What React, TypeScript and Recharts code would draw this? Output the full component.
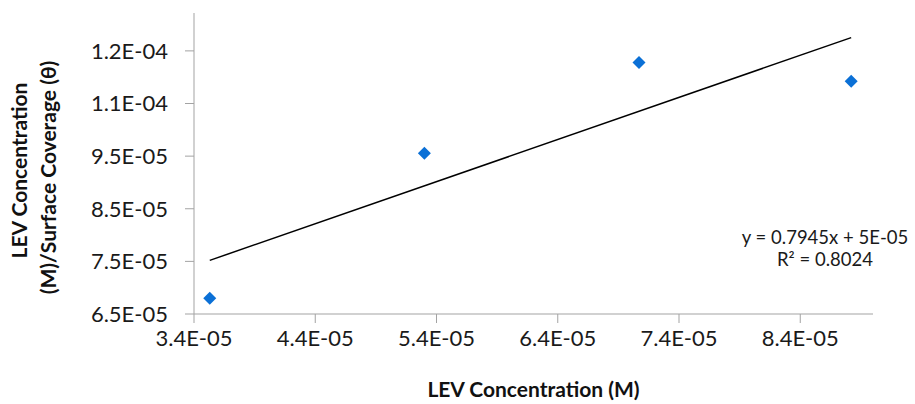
import { ScatterChart, Scatter, XAxis, YAxis, Label } from 'recharts';

// LEV concentration (M) vs concentration / surface coverage
const levConc = [3.53e-5, 5.3e-5, 7.07e-5, 8.82e-5];
const concOverCoverage = [6.8e-5, 9.555e-5, 1.128e-4, 1.0924e-4];

const xTicks = [3.4e-5, 4.4e-5, 5.4e-5, 6.4e-5, 7.4e-5, 8.4e-5];
const xTickLabels = ['3.4E-05', '4.4E-05', '5.4E-05', '6.4E-05', '7.4E-05', '8.4E-05'];
const yTicks = [6.5e-5, 7.5e-5, 8.5e-5, 9.5e-5, 1.05e-4, 1.15e-4];
const yTickLabels = ['6.5E-05', '7.5E-05', '8.5E-05', '9.5E-05', '1.1E-04', '1.2E-04'];

const equationText = 'y = 0.7945x + 5E-05';
const r2Text = 'R² = 0.8024';

const FONT = 'Lato, "Open Sans", sans-serif';
const BLUE = '#0b70d6';
const AXIS = '#a3a3a3';

const points = levConc.map((x, i) => ({ x, y: concOverCoverage[i] }));

// least squares trendline across the data range
const n = levConc.length;
const mx = levConc.reduce((s, v) => s + v, 0) / n;
const my = concOverCoverage.reduce((s, v) => s + v, 0) / n;
let sxy = 0;
let sxx = 0;
levConc.forEach((x, i) => {
    sxy += (x - mx) * (concOverCoverage[i] - my);
    sxx += (x - mx) * (x - mx);
});
const slope = sxy / sxx;
const intercept = my - slope * mx;
const xMin = Math.min(...levConc);
const xMax = Math.max(...levConc);
const trend = [
    { x: xMin, y: intercept + slope * xMin },
    { x: xMax, y: intercept + slope * xMax },
];

const pickLabel = (ticks: number[], labels: string[]) => (v: number) => {
    let best = 0;
    ticks.forEach((t, i) => {
        if (Math.abs(t - v) < Math.abs(ticks[best] - v)) best = i;
    });
    return labels[best];
};

const Diamond = (props: any) => {
    const { cx, cy } = props;
    const r = 6.5;
    return (
        <path
            d={`M${cx},${cy - r} L${cx + r},${cy} L${cx},${cy + r} L${cx - r},${cy} Z`}
            fill={BLUE}
        />
    );
};

const YTitle = (props: any) => {
    const { viewBox } = props;
    const cy = viewBox.y + viewBox.height / 2;
    const style = { fontFamily: FONT, fontSize: 21, fontWeight: 700, fill: '#111' };
    return (
        <g>
            <text transform={`translate(27, ${cy + 7}) rotate(-90)`} textAnchor="middle" style={style}>
                LEV Concentration
            </text>
            <text transform={`translate(56, ${cy + 14}) rotate(-90)`} textAnchor="middle" style={style}>
                (M)/Surface Coverage (θ)
            </text>
        </g>
    );
};

export default function App() {
    const tickStyle = { fontFamily: FONT, fontSize: 22, fill: '#1a1a1a' };
    const eqStyle = { fontFamily: FONT, fontSize: 18.5, fill: '#1a1a1a' };
    return (
        <div style={{ position: 'absolute', left: 0, top: 0, width: 915, height: 404, background: '#fff' }}>
            <ScatterChart width={915} height={404} margin={{ top: 13, right: 42, bottom: 0, left: 0 }}>
                <XAxis
                    type="number"
                    dataKey="x"
                    domain={[3.4e-5, 9.0e-5]}
                    ticks={xTicks}
                    tickFormatter={pickLabel(xTicks, xTickLabels)}
                    height={90}
                    tickSize={9}
                    tickMargin={7}
                    stroke={AXIS}
                    tick={tickStyle}
                    allowDataOverflow
                >
                    <Label
                        value="LEV Concentration (M)"
                        position="insideBottom"
                        offset={7}
                        style={{ fontFamily: FONT, fontSize: 21, fontWeight: 700, fill: '#111' }}
                    />
                </XAxis>
                <YAxis
                    type="number"
                    dataKey="y"
                    domain={[6.5e-5, 1.222e-4]}
                    ticks={yTicks}
                    tickFormatter={pickLabel(yTicks, yTickLabels)}
                    width={194}
                    tickSize={9}
                    tickMargin={17}
                    stroke={AXIS}
                    tick={tickStyle}
                    allowDataOverflow
                >
                    <Label content={<YTitle />} />
                </YAxis>
                <Scatter
                    data={trend}
                    line={{ stroke: '#000', strokeWidth: 1.5 }}
                    shape={() => <g />}
                    isAnimationActive={false}
                    legendType="none"
                />
                <Scatter data={points} shape={<Diamond />} isAnimationActive={false} />
            </ScatterChart>
            <svg width={915} height={404} style={{ position: 'absolute', left: 0, top: 0, pointerEvents: 'none' }}>
                <text x={825} y={244} textAnchor="middle" style={eqStyle}>
                    {equationText}
                </text>
                <text x={825} y={266} textAnchor="middle" style={eqStyle}>
                    {r2Text}
                </text>
            </svg>
        </div>
    );
}
